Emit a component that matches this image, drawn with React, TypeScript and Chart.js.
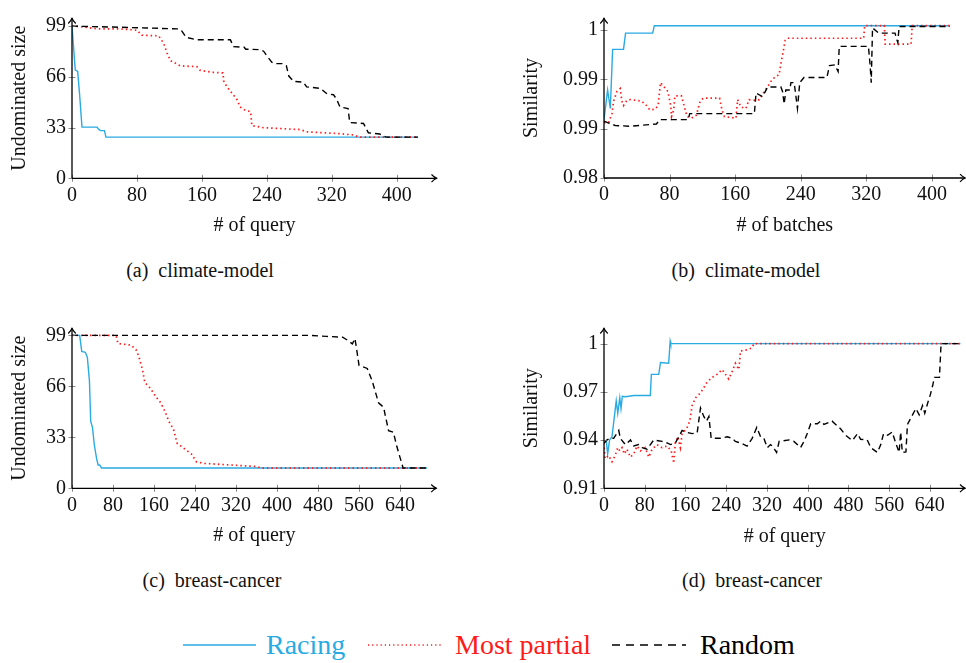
import React, { useEffect, useRef } from 'react';
import { Chart, registerables } from 'chart.js';

Chart.register(...registerables);

const SERIF = "'Liberation Serif', 'Times New Roman', serif";
const CYAN = '#29abe2';
const RED = '#ff1a1a';
const BLACK = '#000000';
const TEXT = '#111111';

type Pt = [number, number];

// ---------- tick values ----------
const X_TICKS_400 = [0, 80, 160, 240, 320, 400];
const X_TICKS_640 = [0, 80, 160, 240, 320, 400, 480, 560, 640];
const Y_TICKS_SIZE = [0, 33, 66, 99];
const Y_TICKS_SIM_B = [0.98, 0.98667, 0.99333, 1.0];
const Y_LABELS_SIM_B = ['0.98', '0.99', '0.99', '1'];
const Y_TICKS_SIM_D = [0.91, 0.94, 0.97, 1.0];
const Y_LABELS_SIM_D = ['0.91', '0.94', '0.97', '1'];

// ---------- (a) climate-model: undominated size vs # of query ----------
const A_RACING: Pt[] = [[0, 99], [4, 70.6], [7, 69.6], [9.4, 54.4], [12.3, 33.3], [30.8, 33.3], [32.8, 31.9], [35, 31], [40, 31], [41.8, 26.8], [426, 26.8]];
const A_PARTIAL: Pt[] = [[0, 99], [10, 98.8], [31, 97.2], [59.5, 97.2], [80, 96.4], [86, 93.1], [106.7, 92.7], [113, 87.7], [117, 81.7], [121, 76.6], [127, 75], [133, 73.2], [154, 72.6], [158, 70.2], [172, 69], [186, 68.5], [186.7, 63.5], [190.8, 59.5], [197, 55.4], [203, 51.4], [207, 46.4], [213, 44.4], [220, 43.3], [221.5, 34.3], [236, 32.9], [260, 32.3], [281, 31.7], [289, 30.2], [326, 29.2], [347, 28.2], [353, 26.8], [426, 26.8]];
const A_RANDOM: Pt[] = [[0, 99], [51, 98.4], [92, 97.8], [131, 97.2], [135, 96], [140.7, 91.7], [154, 90.1], [195, 90.1], [199, 85.7], [212, 85.3], [214, 84], [232, 83.7], [236, 82.7], [240, 79.6], [246, 75.6], [250, 74.6], [259, 74.6], [264, 73.2], [267, 66.5], [273, 63.1], [285, 62.5], [289, 59.5], [306, 58.5], [314, 55], [322, 54.4], [326, 51.4], [330, 46.4], [340, 45.4], [342, 36.3], [359, 35.7], [365, 29.6], [379, 28.8], [387, 26.8], [426, 26.8]];

// ---------- (b) climate-model: similarity vs # of batches ----------
const B_RACING: Pt[] = [[0, 0.9879], [4.4, 0.9919], [7.7, 0.9894], [10.5, 0.9974], [23.8, 0.9974], [26.3, 0.9996], [59.4, 0.9996], [61.4, 1.0006], [422, 1.0006]];
const B_PARTIAL: Pt[] = [[0, 0.9875], [5.7, 0.9875], [9.7, 0.9887], [11.7, 0.9904], [15.8, 0.9917], [19.8, 0.9921], [21.8, 0.9904], [23.8, 0.9898], [27.9, 0.9905], [31.9, 0.9906], [46, 0.9904], [52, 0.9898], [56, 0.9892], [62, 0.9893], [66, 0.9898], [69, 0.9929], [72, 0.9925], [78, 0.9917], [81.6, 0.9896], [82.4, 0.9883], [85, 0.9892], [86.5, 0.9911], [94.5, 0.9911], [98.6, 0.9894], [101.4, 0.9883], [106.7, 0.9881], [112.7, 0.9885], [116.8, 0.9902], [120.8, 0.9908], [141, 0.9908], [144, 0.9892], [147, 0.9883], [161, 0.9881], [163, 0.9906], [167, 0.9896], [173, 0.9894], [177, 0.9906], [185, 0.9905], [189.5, 0.9906], [195.6, 0.9917], [201.6, 0.9927], [205.7, 0.9934], [213.7, 0.994], [215.8, 0.9955], [218.6, 0.9971], [221, 0.9986], [224, 0.9989], [316.8, 0.9989], [318, 1.0006], [342, 1.0006], [343, 0.9981], [374.6, 0.9981], [376, 1.0006], [422, 1.0006]];
const B_RANDOM: Pt[] = [[0, 0.9877], [4.4, 0.9875], [13.7, 0.9871], [31.9, 0.987], [64, 0.9873], [68, 0.9879], [102.6, 0.9879], [104.6, 0.9887], [183.4, 0.9887], [185.5, 0.9915], [193.5, 0.991], [199.6, 0.9923], [215.8, 0.9923], [217.8, 0.9917], [219.8, 0.99], [221.8, 0.9919], [226.7, 0.9919], [228, 0.9929], [232, 0.9929], [236, 0.9894], [238.8, 0.9929], [244, 0.9936], [272, 0.9936], [275, 0.9952], [281.6, 0.9953], [285.6, 0.9944], [287, 0.9978], [322.6, 0.9978], [324.6, 0.9953], [326, 0.9929], [327.6, 1.0003], [335, 0.9996], [355, 0.9996], [358.4, 0.9983], [360, 1.0005], [422, 1.0005]];

// ---------- (c) breast-cancer: undominated size vs # of query ----------
const C_RACING: Pt[] = [[0, 99], [15, 99], [19, 88.7], [26, 88.1], [30, 84.7], [34, 69.6], [36.5, 43.3], [40, 39.3], [43.5, 28.2], [48, 19.2], [51, 15.1], [54, 15.1], [57.6, 13.1], [693, 13.1]];
const C_PARTIAL: Pt[] = [[0, 99], [86, 99], [89.6, 93.75], [115, 92.7], [125, 89.7], [131, 84.7], [137.6, 76.6], [142, 68.5], [153.6, 64.5], [163, 59.5], [173, 55.4], [182, 49.4], [189, 43.3], [198, 38.3], [205, 29.2], [221, 25.2], [233, 22.2], [243, 17.1], [259, 16.1], [310, 15.1], [361.6, 14.1], [368, 13.1], [693, 13.1]];
const C_RANDOM: Pt[] = [[0, 99], [464, 99], [496, 98.4], [528, 97.8], [538, 95.8], [547, 93.5], [552, 97], [555, 90.7], [560, 79.6], [576, 77.6], [585.6, 69.6], [598, 55.4], [608, 52.4], [611, 47.4], [617.6, 37.3], [627, 36.3], [633.6, 27.2], [646, 13.1], [693, 13.1]];

// ---------- (d) breast-cancer: similarity vs # of query ----------
const D_RACING: Pt[] = [[0, 0.9382], [4.6, 0.9392], [7.2, 0.9314], [11, 0.9401], [15.7, 0.9421], [20, 0.9537], [24, 0.9644], [27, 0.9567], [31, 0.9663], [33.4, 0.9596], [36, 0.9673], [42, 0.967], [58.4, 0.9677], [91, 0.9677], [93, 0.9809], [107.5, 0.9809], [111, 0.9883], [127, 0.9878], [130, 1.0015], [131, 1.0], [700, 1.0]];
const D_PARTIAL: Pt[] = [[0, 0.9382], [2, 0.9285], [9, 0.9304], [15.7, 0.9265], [22, 0.9304], [27, 0.9353], [31, 0.9333], [35.4, 0.9353], [40, 0.9314], [45, 0.9343], [52, 0.9294], [58.4, 0.9314], [65, 0.9363], [71.5, 0.9333], [81, 0.9353], [88, 0.9294], [94.4, 0.9343], [104, 0.9372], [114, 0.9353], [124, 0.9363], [132, 0.9333], [137, 0.9256], [140, 0.9382], [145, 0.9421], [150, 0.9353], [153.4, 0.944], [162, 0.9469], [168.5, 0.9518], [173, 0.9615], [180, 0.9664], [189.5, 0.9693], [202.6, 0.9761], [212.5, 0.979], [222, 0.9809], [232, 0.9839], [245, 0.978], [252, 0.9829], [258, 0.9878], [265, 0.9839], [268, 0.9955], [281, 0.9961], [291, 0.9975], [294.4, 1.0], [700, 1.0]];
const D_RANDOM: Pt[] = [[0, 0.9382], [6, 0.9401], [12.5, 0.9411], [19, 0.9411], [29, 0.946], [32, 0.9411], [42, 0.9372], [52, 0.9401], [58.4, 0.9363], [68, 0.9372], [75, 0.9353], [84.6, 0.9343], [97.7, 0.9401], [114, 0.9392], [124, 0.9382], [130.5, 0.9372], [140, 0.9382], [147, 0.9421], [153.4, 0.946], [160, 0.945], [173, 0.944], [183, 0.9445], [189.5, 0.96], [196, 0.9547], [201.3, 0.9518], [206, 0.9547], [210.5, 0.9411], [229, 0.9411], [242, 0.9421], [252, 0.9411], [258, 0.9392], [268, 0.9382], [281, 0.9363], [291, 0.9411], [300, 0.9479], [307.5, 0.9421], [314, 0.9411], [320.7, 0.9353], [327, 0.9372], [330.5, 0.9363], [337, 0.9333], [339, 0.9323], [344, 0.9392], [363.6, 0.9401], [373, 0.9392], [386, 0.9353], [393, 0.9392], [399, 0.944], [406, 0.9502], [419, 0.9502], [425.6, 0.9518], [432, 0.9498], [448, 0.9518], [458, 0.9489], [465, 0.9469], [474.6, 0.943], [487.9, 0.9397], [497.7, 0.944], [504, 0.9405], [517, 0.9401], [524, 0.9353], [537, 0.9323], [543.6, 0.9372], [549, 0.944], [557, 0.943], [566, 0.945], [573, 0.9382], [579.7, 0.9323], [582.6, 0.945], [586, 0.9323], [593, 0.9327], [596, 0.9498], [602.6, 0.9537], [612.5, 0.9596], [619, 0.9557], [625.6, 0.9615], [630, 0.9567], [637, 0.9644], [641, 0.9683], [645.6, 0.9741], [649, 0.979], [658.8, 0.979], [662, 1.0], [700, 1.0]];

// ---------- pgfplots-like axes (arrows + crossing tick marks) ----------
const pgfAxes = {
  id: 'pgfAxes',
  afterDatasetsDraw(chart: any) {
    const { ctx, chartArea } = chart;
    const { left, top, right, bottom } = chartArea;
    const xs = chart.scales.x;
    const ys = chart.scales.y;
    ctx.save();
    ctx.strokeStyle = '#6e6e6e';
    ctx.lineWidth = 0.8;
    ctx.beginPath();
    xs.ticks.forEach((t: any) => {
      const px = Math.round(xs.getPixelForValue(t.value)) + 0.5;
      ctx.moveTo(px, bottom - 3.5);
      ctx.lineTo(px, bottom + 3.5);
    });
    ys.ticks.forEach((t: any) => {
      const py = Math.round(ys.getPixelForValue(t.value)) + 0.5;
      ctx.moveTo(left - 3.5, py);
      ctx.lineTo(left + 3.5, py);
    });
    ctx.stroke();
    ctx.strokeStyle = BLACK;
    ctx.lineWidth = 1.3;
    ctx.beginPath();
    ctx.moveTo(left, bottom);
    ctx.lineTo(left, top + 0.5);
    ctx.moveTo(left, bottom);
    ctx.lineTo(right - 0.5, bottom);
    ctx.stroke();
    ctx.lineWidth = 1.1;
    ctx.lineJoin = 'round';
    ctx.beginPath();
    ctx.moveTo(left - 3.8, top + 5.5);
    ctx.quadraticCurveTo(left - 0.6, top + 2.5, left, top);
    ctx.quadraticCurveTo(left + 0.6, top + 2.5, left + 3.8, top + 5.5);
    ctx.moveTo(right - 5.5, bottom - 3.8);
    ctx.quadraticCurveTo(right - 2.5, bottom - 0.6, right, bottom);
    ctx.quadraticCurveTo(right - 2.5, bottom + 0.6, right - 5.5, bottom + 3.8);
    ctx.stroke();
    ctx.restore();
  },
};

interface PanelProps {
  left: number;
  top: number;
  width: number;
  height: number;
  area: { l: number; t: number; r: number; b: number };
  xMax: number;
  yMin: number;
  yMax: number;
  xTicks: number[];
  yTicks: number[];
  yLabels?: string[];
  xTitle: string;
  yTitle: string;
  xTitleY: number;
  yTitleX: number;
  racing: Pt[];
  partial: Pt[];
  random: Pt[];
}

const TICK_FONT = { size: 20, family: SERIF };
const TITLE_FONT = { size: 20, family: SERIF, lineHeight: 1.2 };

function Panel(p: PanelProps) {
  const ref = useRef<HTMLCanvasElement>(null);
  useEffect(() => {
    if (!ref.current) return;
    const half = (TITLE_FONT.size * TITLE_FONT.lineHeight) / 2;
    const toXY = (arr: Pt[]) => arr.map(([x, y]) => ({ x, y }));
    const chart = new Chart(ref.current, {
      type: 'line',
      data: {
        datasets: [
          { label: 'Random', data: toXY(p.random), borderColor: BLACK, borderWidth: 1.4, borderDash: [6, 4], pointRadius: 0, tension: 0, fill: false },
          { label: 'Most partial', data: toXY(p.partial), borderColor: RED, borderWidth: 1.7, borderDash: [1.5, 3], pointRadius: 0, tension: 0, fill: false },
          { label: 'Racing', data: toXY(p.racing), borderColor: CYAN, borderWidth: 1.4, pointRadius: 0, tension: 0, fill: false },
        ],
      },
      options: {
        responsive: false,
        animation: false,
        devicePixelRatio: 1,
        layout: { padding: { left: 0, top: p.area.t, right: p.width - p.area.r, bottom: 0 } },
        plugins: { legend: { display: false }, tooltip: { enabled: false } },
        scales: {
          x: {
            type: 'linear',
            min: 0,
            max: p.xMax,
            grid: { display: false, drawTicks: false },
            border: { display: false },
            afterBuildTicks: (s: any) => {
              s.ticks = p.xTicks.map((v) => ({ value: v }));
            },
            afterFit: (s: any) => {
              s.height = p.height - p.area.b;
            },
            ticks: { color: TEXT, font: TICK_FONT, padding: 5, maxRotation: 0, autoSkip: false, callback: (v: any) => String(v) },
            title: { display: true, text: p.xTitle, color: TEXT, font: TITLE_FONT, padding: { top: 0, bottom: p.height - p.xTitleY - half } },
          },
          y: {
            type: 'linear',
            min: p.yMin,
            max: p.yMax,
            grid: { display: false, drawTicks: false },
            border: { display: false },
            afterBuildTicks: (s: any) => {
              s.ticks = p.yTicks.map((v) => ({ value: v }));
            },
            afterFit: (s: any) => {
              s.width = p.area.l;
            },
            ticks: {
              color: TEXT,
              font: TICK_FONT,
              padding: 6,
              autoSkip: false,
              callback: (v: any, i: number) => (p.yLabels ? p.yLabels[i] : String(v)),
            },
            title: { display: true, text: p.yTitle, color: TEXT, font: TITLE_FONT, padding: { top: p.yTitleX - half, bottom: 0 } },
          },
        },
      } as any,
      plugins: [pgfAxes],
    });
    return () => chart.destroy();
  }, []);
  return (
    <canvas
      ref={ref}
      width={p.width}
      height={p.height}
      style={{ position: 'absolute', left: p.left, top: p.top, width: p.width, height: p.height }}
    />
  );
}

const captionStyle = (cx: number, cy: number): React.CSSProperties => ({
  position: 'absolute',
  left: cx - 150,
  top: cy - 12,
  width: 300,
  textAlign: 'center',
  fontFamily: SERIF,
  fontSize: 20,
  lineHeight: '24px',
  color: TEXT,
  whiteSpace: 'nowrap',
});

const legendText = (x: number, color: string): React.CSSProperties => ({
  position: 'absolute',
  left: x,
  top: 629,
  fontFamily: SERIF,
  fontSize: 28,
  lineHeight: '32px',
  color,
  whiteSpace: 'nowrap',
});

export default function App() {
  return (
    <div style={{ position: 'absolute', left: 0, top: 0, width: 966, height: 663, overflow: 'hidden', background: '#ffffff' }}>
      <Panel left={0} top={0} width={450} height={245} area={{ l: 72, t: 6, r: 437, b: 178.3 }}
        xMax={449.5} yMin={0} yMax={104.3} xTicks={X_TICKS_400} yTicks={Y_TICKS_SIZE}
        xTitle="# of query" yTitle="Undominated size" xTitleY={226} yTitleX={19.5}
        racing={A_RACING} partial={A_PARTIAL} random={A_RANDOM} />
      <Panel left={500} top={0} width={466} height={245} area={{ l: 104, t: 6, r: 465.5, b: 178 }}
        xMax={441} yMin={0.98} yMax={1.00164} xTicks={X_TICKS_400} yTicks={Y_TICKS_SIM_B} yLabels={Y_LABELS_SIM_B}
        xTitle="# of batches" yTitle="Similarity" xTitleY={226} yTitleX={31.5}
        racing={B_RACING} partial={B_PARTIAL} random={B_RANDOM} />
      <Panel left={0} top={310} width={450} height={245} area={{ l: 72, t: 6.7, r: 436.7, b: 178.3 }}
        xMax={711.5} yMin={0} yMax={103.8} xTicks={X_TICKS_640} yTicks={Y_TICKS_SIZE}
        xTitle="# of query" yTitle="Undominated size" xTitleY={226} yTitleX={19.5}
        racing={C_RACING} partial={C_PARTIAL} random={C_RANDOM} />
      <Panel left={500} top={310} width={466} height={245} area={{ l: 104, t: 7.3, r: 465.5, b: 178.3 }}
        xMax={710} yMin={0.91} yMax={1.00974} xTicks={X_TICKS_640} yTicks={Y_TICKS_SIM_D} yLabels={Y_LABELS_SIM_D}
        xTitle="# of query" yTitle="Similarity" xTitleY={227} yTitleX={31.5}
        racing={D_RACING} partial={D_PARTIAL} random={D_RANDOM} />

      <div style={captionStyle(200, 270)}>(a)&nbsp; climate-model</div>
      <div style={captionStyle(746, 270)}>(b)&nbsp; climate-model</div>
      <div style={captionStyle(212, 580)}>(c)&nbsp; breast-cancer</div>
      <div style={captionStyle(752, 580)}>(d)&nbsp; breast-cancer</div>

      <svg style={{ position: 'absolute', left: 183, top: 640, width: 73, height: 10 }} width={73} height={10}>
        <line x1={0} y1={5} x2={73} y2={5} stroke={CYAN} strokeWidth={1.3} />
      </svg>
      <div style={legendText(266, CYAN)}>Racing</div>
      <svg style={{ position: 'absolute', left: 368, top: 640, width: 73, height: 10 }} width={73} height={10}>
        <line x1={0} y1={5} x2={73} y2={5} stroke={RED} strokeWidth={1.5} strokeDasharray="1.2 3" />
      </svg>
      <div style={legendText(455, RED)}>Most partial</div>
      <svg style={{ position: 'absolute', left: 612, top: 640, width: 74, height: 10 }} width={74} height={10}>
        <line x1={0} y1={5} x2={74} y2={5} stroke={BLACK} strokeWidth={1.4} strokeDasharray="8 6" />
      </svg>
      <div style={legendText(700, BLACK)}>Random</div>
    </div>
  );
}
